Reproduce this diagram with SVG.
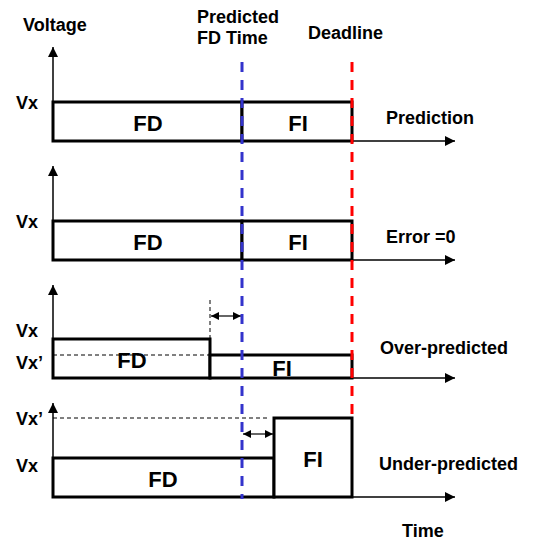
<svg xmlns="http://www.w3.org/2000/svg" width="534" height="541" viewBox="0 0 534 541">
<style>
text{font-family:"Liberation Sans",Arial,sans-serif;font-weight:bold;fill:#000}
.lbl{font-size:18px}
.big{font-size:22px;text-anchor:middle}
.box{fill:#fff;stroke:#000;stroke-width:3}
.ax{stroke:#000;stroke-width:1.5;fill:none}
.thin{stroke:#000;stroke-width:1;stroke-dasharray:4 3;fill:none}
.dbl{stroke:#000;stroke-width:1.2;fill:none}
</style>
<defs>
<marker id="ah" markerUnits="userSpaceOnUse" markerWidth="12" markerHeight="12" refX="10" refY="5" orient="auto"><path d="M0,0L10,5L0,10z" fill="#000"/></marker>
<marker id="sh" markerUnits="userSpaceOnUse" markerWidth="10" markerHeight="10" refX="8" refY="4" orient="auto-start-reverse"><path d="M0,0L8,4L0,8z" fill="#000"/></marker>
</defs>
<g id="labels">
<text class="lbl" x="23" y="31">Voltage</text>
<text class="lbl" x="197" y="23">Predicted</text>
<text class="lbl" x="197" y="44">FD Time</text>
<text class="lbl" x="308" y="39">Deadline</text>
<text class="lbl" x="386" y="124">Prediction</text>
<text class="lbl" x="386" y="243">Error =0</text>
<text class="lbl" x="380" y="354">Over-predicted</text>
<text class="lbl" x="379" y="470">Under-predicted</text>
<text class="lbl" x="402" y="537">Time</text>
<text class="lbl" x="16" y="109">Vx</text>
<text class="lbl" x="16" y="228">Vx</text>
<text class="lbl" x="16" y="337">Vx</text>
<text class="lbl" x="16" y="369">Vx’</text>
<text class="lbl" x="16" y="425">Vx’</text>
<text class="lbl" x="16" y="472">Vx</text>
</g>
<g id="connectors">
<line class="ax" x1="53" y1="141" x2="53" y2="47" marker-end="url(#ah)"/>
<line class="ax" x1="53" y1="141" x2="455" y2="141" marker-end="url(#ah)"/>
<line class="ax" x1="53" y1="260" x2="53" y2="166" marker-end="url(#ah)"/>
<line class="ax" x1="53" y1="260" x2="455" y2="260" marker-end="url(#ah)"/>
<line class="ax" x1="53" y1="378" x2="53" y2="285" marker-end="url(#ah)"/>
<line class="ax" x1="53" y1="378" x2="455" y2="378" marker-end="url(#ah)"/>
<line class="ax" x1="53" y1="497" x2="53" y2="403" marker-end="url(#ah)"/>
<line class="ax" x1="53" y1="497" x2="455" y2="497" marker-end="url(#ah)"/>
<line class="thin" x1="210" y1="300" x2="210" y2="339"/>
<line class="dbl" x1="211" y1="316" x2="241" y2="316" marker-start="url(#sh)" marker-end="url(#sh)"/>
<line class="thin" x1="53" y1="418" x2="270" y2="418"/>
<line class="dbl" x1="243" y1="434" x2="273" y2="434" marker-start="url(#sh)" marker-end="url(#sh)"/>
</g>
<g id="p1-fd"><rect class="box" x="53" y="102" width="189" height="39"/><text class="big" x="148" y="131">FD</text></g>
<g id="p1-fi"><rect class="box" x="242" y="102" width="110" height="39"/><text class="big" x="298" y="131">FI</text></g>
<g id="p2-fd"><rect class="box" x="53" y="221" width="189" height="39"/><text class="big" x="148" y="250">FD</text></g>
<g id="p2-fi"><rect class="box" x="242" y="221" width="110" height="39"/><text class="big" x="298" y="250">FI</text></g>
<g id="p3-fd"><rect class="box" x="53" y="339" width="157" height="39"/><line class="thin" x1="53" y1="355" x2="210" y2="355"/><text class="big" x="132" y="368">FD</text></g>
<g id="p3-fi"><rect class="box" x="210" y="355" width="142" height="23"/><text class="big" x="282" y="376">FI</text></g>
<g id="p4-fd"><rect class="box" x="53" y="458" width="221" height="39"/><text class="big" x="163" y="487">FD</text></g>
<g id="p4-fi"><rect class="box" x="274" y="418" width="78" height="79"/><text class="big" x="313" y="467">FI</text></g>
<g id="timelines">
<line x1="242" y1="62" x2="242" y2="499" stroke="#3333cc" stroke-width="3" stroke-dasharray="10 8"/>
<line x1="352" y1="62" x2="352" y2="418" stroke="#ff0000" stroke-width="3" stroke-dasharray="10 8"/>
</g>
</svg>
